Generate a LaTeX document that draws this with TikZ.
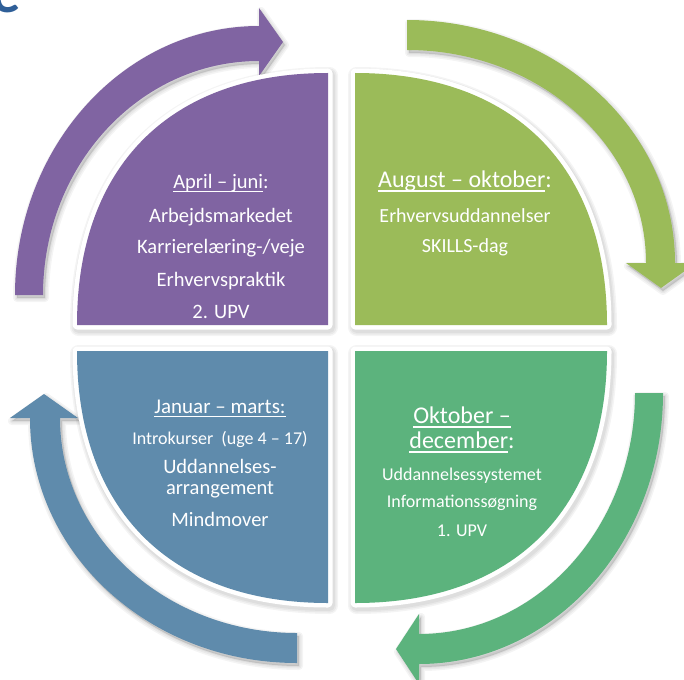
\documentclass[tikz,border=0pt]{standalone}
\usepackage{fontspec}
\setmainfont{Carlito}
\definecolor{cpurple}{HTML}{8064A2}
\definecolor{colive}{HTML}{9BBB59}
\definecolor{cblue}{HTML}{5F8BAC}
\definecolor{cgreen}{HTML}{5CB37D}
\definecolor{ctitle}{HTML}{2F5F98}
\newsavebox\ulbox
\newcommand\myul[1]{\sbox\ulbox{#1}\rlap{\rule[-0.2em]{\wd\ulbox}{0.065em}}\usebox\ulbox}
\newcommand\softshade[3]{% path, base width, offset
  \begin{scope}[shift={(#3)}]
    \foreach \w in {8,5,2}{%
      \path[fill=black, draw=black, fill opacity=0.045, draw opacity=0.045,
            line width=#2pt+\w pt, line join=round] #1;}
  \end{scope}}
\begin{document}
\begin{tikzpicture}[x=1pt,y=-1pt,
  txt/.style={text=white, anchor=base, inner sep=0pt},
  fA/.style={txt, font=\fontsize{20.5}{24}\selectfont},
  fB/.style={txt, font=\fontsize{24}{28}\selectfont},
  fC/.style={txt, font=\fontsize{18}{22}\selectfont},
  fD/.style={txt, font=\fontsize{20}{24}\selectfont},
  rim/.style={fill=white, draw=white, line width=9pt, line join=round}]
\useasboundingbox (0,0) rectangle (684,679);
\fill[white] (0,0) rectangle (684,679);
% paths
\def\arrP{(15,295) arc[start angle=180, end angle=270, x radius=244, y radius=269] -- (259,8) -- (283,42) -- (259,76) -- (259,61) arc[start angle=270, end angle=180, x radius=216, y radius=234] -- cycle}
\def\arrG{(407,20) arc[start angle=270, end angle=360, x radius=268, y radius=243] -- (696,263) -- (661,288) -- (626,263) -- (646,263) arc[start angle=0, end angle=-90, x radius=239, y radius=213] -- cycle}
\def\arrH{(663,393) arc[start angle=0, end angle=90, x radius=244, y radius=271] -- (419,684) -- (396,649) -- (419,614) -- (419,634) arc[start angle=90, end angle=0, x radius=216, y radius=241] -- cycle}
\def\arrB{(297,663) arc[start angle=90, end angle=180, x radius=267, y radius=245] -- (10,418) -- (44,394) -- (78,418) -- (60,418) arc[start angle=180, end angle=90, x radius=237, y radius=215] -- cycle}
\def\qP{(328,325) -- (77,325) .. controls (77,166.2) and (169.9,73) .. (328,73) -- cycle}
\def\qG{(355,325) -- (607,325) .. controls (607,166.2) and (513.8,73) .. (355,73) -- cycle}
\def\qB{(328,351) -- (77,351) .. controls (77,509.8) and (169.9,603) .. (328,603) -- cycle}
\def\qH{(355,351) -- (607,351) .. controls (607,509.8) and (513.8,603) .. (355,603) -- cycle}
% title fragment
\begin{scope}
  \clip (0,0) rectangle (684,679);
  \node[anchor=base east, inner sep=0pt, text=ctitle, font=\fontsize{56}{56}\selectfont\bfseries] (title) at (21,13) {e};
\end{scope}
% arrows
\softshade{\arrP}{0}{2,3}
\softshade{\arrG}{0}{2,3}
\softshade{\arrH}{0}{2,3}
\softshade{\arrB}{0}{2,3}
\fill[cpurple] \arrP;
\fill[colive] \arrG;
\fill[cgreen] \arrH;
\fill[cblue] \arrB;
% quadrants
\softshade{\qP}{9}{1.5,2.5}
\softshade{\qG}{9}{1.5,2.5}
\softshade{\qB}{9}{1.5,2.5}
\softshade{\qH}{9}{1.5,2.5}
\path[rim] \qP; \fill[cpurple] \qP;
\path[rim] \qG; \fill[colive] \qG;
\path[rim] \qB; \fill[cblue] \qB;
\path[rim] \qH; \fill[cgreen] \qH;
% purple texts
\node[fA] (p1) at (221,188) {\myul{April – juni}:};
\node[fA] (p2) at (221,222) {Arbejdsmarkedet};
\node[fA] (p3) at (221,253) {Karrierelæring-/veje};
\node[fA] (p4) at (221,286) {Erhvervspraktik};
\node[fA] (p5) at (221,318) {2. UPV};
% olive texts
\node[fB] (g1) at (465,187) {\myul{August – oktober}:};
\node[fD] (g2) at (465,222) {Erhvervsuddannelser};
\node[fD] (g3) at (465,252) {SKILLS-dag};
% blue texts
\node[txt, font=\fontsize{21}{25}\selectfont] (b1) at (220,413) {\myul{Januar – marts:}};
\node[fC] (b2) at (220,444) {Introkurser~ (uge 4 – 17)};
\node[fA] (b3) at (220,473) {Uddannelses-};
\node[fA] (b4) at (220,494) {arrangement};
\node[fA] (b5) at (220,526) {Mindmover};
% green texts
\node[fB] (h1) at (462,423) {\myul{Oktober –}};
\node[fB] (h2) at (462,448) {\myul{december}:};
\node[fC] (h3) at (462,480) {Uddannelsessystemet};
\node[fC] (h4) at (462,507) {Informationssøgning};
\node[fC] (h5) at (462,536) {1. UPV};
\end{tikzpicture}
\end{document}
